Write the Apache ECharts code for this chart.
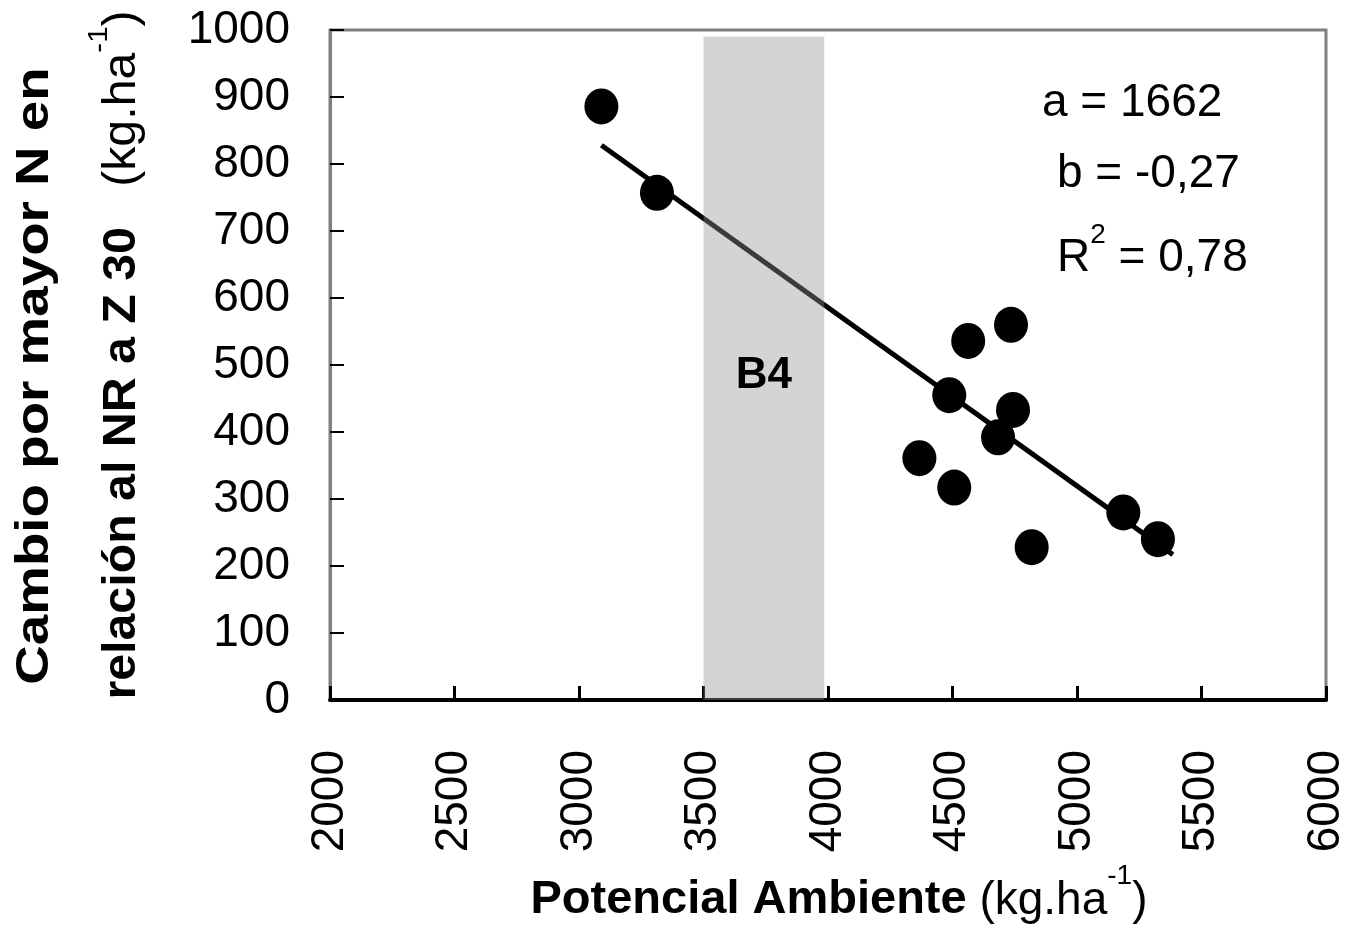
<!DOCTYPE html>
<html>
<head>
<meta charset="utf-8">
<script src="https://cdn.jsdelivr.net/npm/echarts@6/dist/echarts.min.js"></script>
<style>
html,body{margin:0;padding:0;background:#fff;}
#chart{width:1349px;height:944px;}
</style>
</head>
<body>
<div id="chart"></div>
<script>
// Data
const potencialAmbiente = [3090, 3313, 4563, 4735, 4487, 4743, 4683, 4367, 4507, 4818, 5186, 5325];
const cambioN          = [886,  757,  536,  560,  455,  433,  392,  361,  317,  228,  280,  240];
const lineX = [3090, 5385];
const lineY = [828, 217];
const bandX = [3500, 3985];
const bandTop = 990;
const bandLabel = 'B4';
const statsLines = ['a = 1662', 'b = -0,27', 'R', '2', ' = 0,78'];
const xRange = [2000, 6000, 500];
const yRange = [0, 1000, 100];

const FONT = "'Liberation Sans', Arial, sans-serif";

const points = potencialAmbiente.map((x, i) => [x, cambioN[i]]);
const fitLine = lineX.map((x, i) => [x, lineY[i]]);

const chart = echarts.init(document.getElementById('chart'), null, {renderer: 'canvas'});

const option = {
  backgroundColor: '#fff',
  animation: false,
  grid: {
    left: 330, top: 30, width: 1001, height: 670,
    show: true, borderColor: '#808080', borderWidth: 3, backgroundColor: 'transparent'
  },
  xAxis: {
    type: 'value', min: xRange[0], max: xRange[1], interval: xRange[2],
    axisLine: {show: true, lineStyle: {color: '#000', width: 4}},
    axisTick: {show: true, inside: true, length: 14, lineStyle: {color: '#000', width: 3}},
    axisLabel: {rotate: 90, fontSize: 46, color: '#000', margin: 50, fontFamily: FONT,
      formatter: v => String(v)},
    splitLine: {show: false}
  },
  yAxis: {
    type: 'value', min: yRange[0], max: yRange[1], interval: yRange[2],
    axisLine: {show: true, lineStyle: {color: '#808080', width: 3}},
    axisTick: {show: true, inside: true, length: 14, lineStyle: {color: '#000', width: 2}},
    axisLabel: {fontSize: 46, color: '#000', margin: 40, fontFamily: FONT,
      formatter: v => String(v)},
    splitLine: {show: false}
  },
  series: [
    {
      type: 'line', data: fitLine, showSymbol: false, symbol: 'none', z: 2,
      lineStyle: {color: '#000', width: 5}
    },
    {
      type: 'scatter', data: [], z: 6, silent: true,
      markArea: {
        silent: true, z: 6,
        itemStyle: {color: 'rgba(148,148,148,0.4)'},
        label: {
          show: true, position: 'inside', formatter: bandLabel,
          fontSize: 44, fontWeight: 'bold', color: '#000', fontFamily: FONT,
          offset: [0, 8]
        },
        data: [[{xAxis: bandX[0], yAxis: 0}, {xAxis: bandX[1], yAxis: bandTop}]]
      }
    },
    {
      type: 'scatter', data: points, z: 8,
      symbol: 'circle', symbolSize: [34, 36],
      itemStyle: {color: '#000', opacity: 1}
    }
  ],
  graphic: [
    {
      type: 'text', left: 1042, top: 107 - 27, z: 10,
      style: {text: statsLines[0], fontSize: 46, fontFamily: FONT, fill: '#000'}
    },
    {
      type: 'text', left: 1057, top: 178 - 27, z: 10,
      style: {text: statsLines[1], fontSize: 46, fontFamily: FONT, fill: '#000'}
    },
    {
      type: 'text', left: 1057, top: 257 - 36, z: 10,
      style: {
        text: '{n|' + statsLines[2] + '}{s|' + statsLines[3] + '}{n|' + statsLines[4] + '}',
        fontFamily: FONT, fill: '#000',
        rich: {
          n: {fontSize: 46, fontFamily: FONT, color: '#000', lineHeight: 60, verticalAlign: 'bottom'},
          s: {fontSize: 28, fontFamily: FONT, color: '#000', lineHeight: 60, verticalAlign: 'top'}
        }
      }
    },
    // x-axis title
    {
      type: 'text', x: 839, y: 893, z: 10,
      style: {
        text: '{b|Potencial Ambiente}{n| (kg.ha}{s|-1}{n|)}',
        align: 'center', verticalAlign: 'middle',
        textAlign: 'center', textVerticalAlign: 'middle',
        fontFamily: FONT, fill: '#000',
        rich: {
          b: {fontSize: 47, fontWeight: 'bold', fontFamily: FONT, color: '#000', lineHeight: 62, verticalAlign: 'bottom'},
          n: {fontSize: 46, fontFamily: FONT, color: '#000', lineHeight: 62, verticalAlign: 'bottom'},
          s: {fontSize: 28, fontFamily: FONT, color: '#000', lineHeight: 62, verticalAlign: 'top'}
        }
      }
    },
    // y-axis title line 1
    {
      type: 'text', x: 35, y: 376, rotation: Math.PI / 2, scaleX: 1.19, z: 10,
      style: {
        text: 'Cambio por mayor N en',
        align: 'center', verticalAlign: 'middle',
        textAlign: 'center', textVerticalAlign: 'middle',
        fontSize: 46, fontWeight: 'bold', fontFamily: FONT, fill: '#000'
      }
    },
    // y-axis title line 2
    {
      type: 'text', x: 115, y: 355, rotation: Math.PI / 2, scaleX: 1.05, z: 10,
      style: {
        text: '{b|relación al NR a Z 30}{n|   (kg.ha}{s|-1}{n|)}',
        align: 'center', verticalAlign: 'middle',
        textAlign: 'center', textVerticalAlign: 'middle',
        fontFamily: FONT, fill: '#000',
        rich: {
          b: {fontSize: 46, fontWeight: 'bold', fontFamily: FONT, color: '#000', lineHeight: 60, verticalAlign: 'bottom'},
          n: {fontSize: 46, fontFamily: FONT, color: '#000', lineHeight: 60, verticalAlign: 'bottom'},
          s: {fontSize: 28, fontFamily: FONT, color: '#000', lineHeight: 60, verticalAlign: 'top'}
        }
      }
    }
  ]
};

chart.setOption(option);
</script>
</body>
</html>
